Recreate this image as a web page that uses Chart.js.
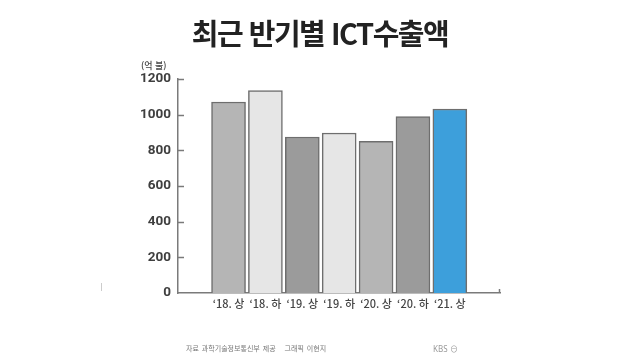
<!DOCTYPE html>
<html lang="ko">
<head>
<meta charset="utf-8">
<script src="https://cdn.jsdelivr.net/npm/chart.js@4/dist/chart.umd.min.js"></script>
<style>
  html, body { margin: 0; padding: 0; background: #fff; }
  #wrap { position: relative; width: 640px; height: 360px; overflow: hidden; }
  #title { position: absolute; left: 0; width: 640px; top: 11px; text-align: center;
    font: 700 29px "Noto Sans CJK KR", sans-serif; letter-spacing: -1.5px; color: #222; }
  #unit { position: absolute; left: 141px; top: 59px; font: 500 9px "Noto Sans CJK KR", sans-serif; color: #444; }
  #credit { position: absolute; left: 186px; top: 343px; font: 400 7px "Noto Sans CJK KR", sans-serif; color: #777; word-spacing: 1px; }
  #logo { position: absolute; left: 433px; top: 343px; font: 400 8px "Noto Sans", sans-serif; color: #999; }
  #mark { position: absolute; left: 101px; top: 283px; width: 1px; height: 8px; background: #ccc; }
  canvas { position: absolute; left: 0; top: 0; }
</style>
</head>
<body>
<div id="wrap">
  <canvas id="chart" width="640" height="360"></canvas>
  <div id="title">최근 반기별 ICT수출액</div>
  <div id="unit">(억 불)</div>
  <div id="credit">자료 과학기술정보통신부 제공 &nbsp;&nbsp;그래픽 이현지</div>
  <div id="logo">KBS ⊖</div>
  <div id="mark"></div>
</div>
<script>
const labels = ['‘18. 상', '‘18. 하', '‘19. 상', '‘19. 하', '‘20. 상', '‘20. 하', '‘21. 상'];
const values = [1071, 1135, 875, 897, 850, 989, 1032];
const barColors = ['#b5b5b5', '#e6e6e6', '#9b9b9b', '#e6e6e6', '#b5b5b5', '#9b9b9b', '#3d9fdb'];

// small inward ticks on the y axis, and the end mark of the x axis
const axisTicks = {
  id: 'axisTicks',
  afterDraw(chart) {
    const {ctx, chartArea} = chart;
    const y = chart.scales.y;
    ctx.save();
    ctx.strokeStyle = '#7a7a7a';
    ctx.lineWidth = 1.5;
    y.ticks.forEach(t => {
      const py = Math.round(y.getPixelForValue(t.value)) + 0.5;
      if (t.value === 0) return;
      ctx.beginPath();
      ctx.moveTo(chartArea.left, py);
      ctx.lineTo(chartArea.left + 6, py);
      ctx.stroke();
    });
    ctx.beginPath();
    ctx.moveTo(chartArea.right - 0.5, chartArea.bottom);
    ctx.lineTo(chartArea.right - 0.5, chartArea.bottom - 4);
    ctx.stroke();
    ctx.restore();
  }
};

new Chart(document.getElementById('chart'), {
  type: 'bar',
  data: {
    datasets: [{
      data: values.map((v, i) => ({x: i, y: v})),
      backgroundColor: barColors,
      borderColor: '#6e6e6e',
      borderWidth: 1.5,
      barThickness: 34
    }]
  },
  options: {
    responsive: false,
    animation: false,
    layout: { padding: { left: 118, right: 140, top: 79, bottom: 36 } },
    plugins: { legend: { display: false }, tooltip: { enabled: false } },
    scales: {
      x: {
        type: 'linear',
        offset: false,
        min: -1.37,
        max: 7.36,
        grid: { display: false, drawTicks: false },
        border: { display: true, color: '#7a7a7a', width: 1.5 },
        afterFit: s => { s.height = 31; },
        afterBuildTicks: s => { s.ticks = labels.map((l, i) => ({value: i})); },
        ticks: {
          autoSkip: false,
          maxRotation: 0,
          padding: 4,
          color: '#444',
          font: { family: '"Noto Sans CJK KR", sans-serif', size: 11, weight: '500' },
          callback: v => labels[v]
        }
      },
      y: {
        min: 0,
        max: 1200,
        grid: { display: false, drawTicks: false },
        border: { display: true, color: '#7a7a7a', width: 1.5 },
        afterFit: s => { s.width = 60; },
        ticks: {
          stepSize: 200,
          padding: 7,
          color: '#3f3f3f',
          font: { family: 'Roboto, sans-serif', size: 13.5, weight: 'bold' },
          callback: v => String(v)
        }
      }
    }
  },
  plugins: [axisTicks]
});
</script>
</body>
</html>
